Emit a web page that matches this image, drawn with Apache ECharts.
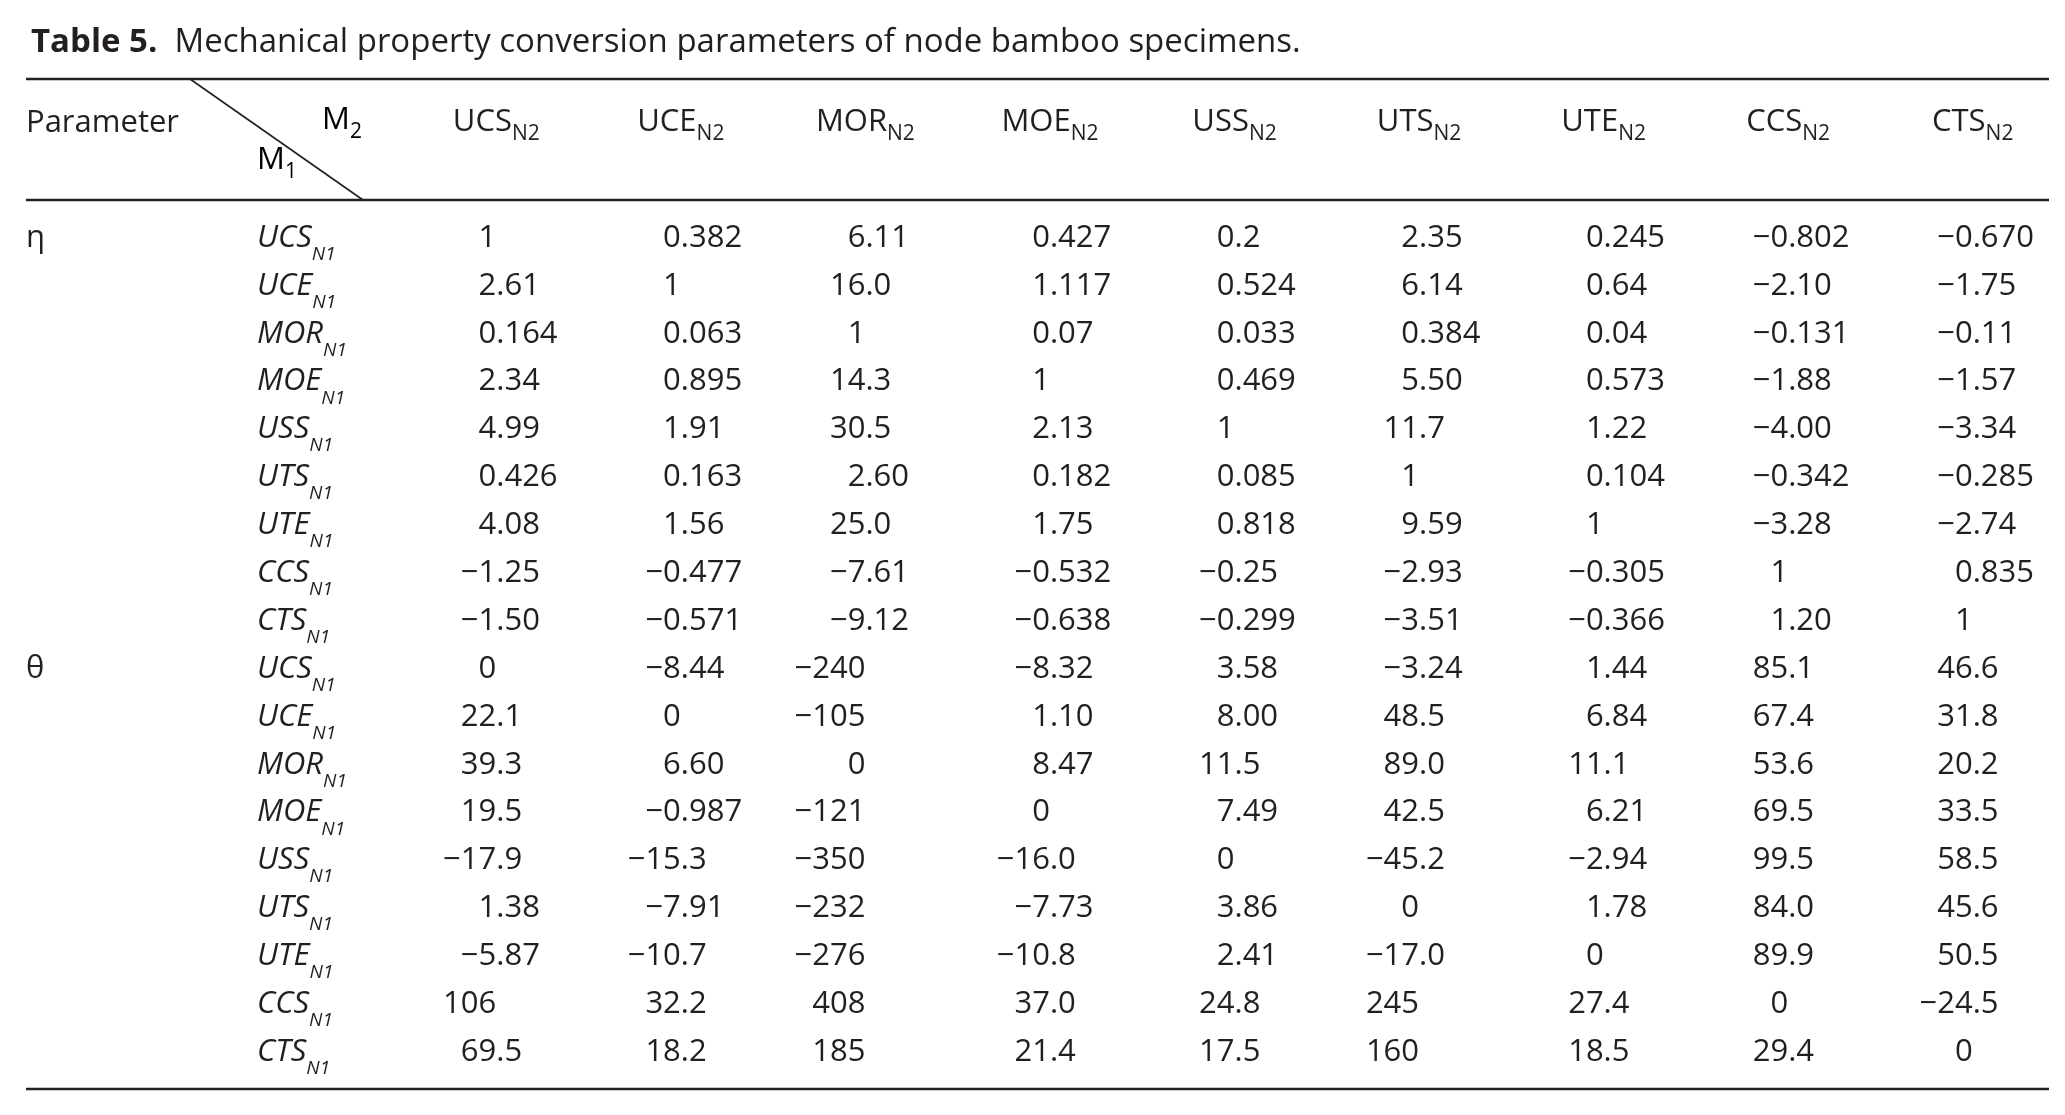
<!DOCTYPE html>
<html>
<head>
<meta charset="utf-8">
<script src="https://cdn.jsdelivr.net/npm/echarts@6/dist/echarts.min.js"></script>
<style>
  html, body { margin: 0; padding: 0; background: #fff; }
  #main { width: 2065px; height: 1115px; }
</style>
</head>
<body>
<div id="main"></div>
<script>
// column (M2) and row (M1) property names
const props = ['UCS', 'UCE', 'MOR', 'MOE', 'USS', 'UTS', 'UTE', 'CCS', 'CTS'];
const params = ['η', 'θ'];

// η block, rows M1 = UCS..CTS, columns M2 = UCS..CTS (kept as printed)
const etaValues = [
  ['1', '0.382', '6.11', '0.427', '0.2', '2.35', '0.245', '-0.802', '-0.670'],
  ['2.61', '1', '16.0', '1.117', '0.524', '6.14', '0.64', '-2.10', '-1.75'],
  ['0.164', '0.063', '1', '0.07', '0.033', '0.384', '0.04', '-0.131', '-0.11'],
  ['2.34', '0.895', '14.3', '1', '0.469', '5.50', '0.573', '-1.88', '-1.57'],
  ['4.99', '1.91', '30.5', '2.13', '1', '11.7', '1.22', '-4.00', '-3.34'],
  ['0.426', '0.163', '2.60', '0.182', '0.085', '1', '0.104', '-0.342', '-0.285'],
  ['4.08', '1.56', '25.0', '1.75', '0.818', '9.59', '1', '-3.28', '-2.74'],
  ['-1.25', '-0.477', '-7.61', '-0.532', '-0.25', '-2.93', '-0.305', '1', '0.835'],
  ['-1.50', '-0.571', '-9.12', '-0.638', '-0.299', '-3.51', '-0.366', '1.20', '1']
];

// θ block
const thetaValues = [
  ['0', '-8.44', '-240', '-8.32', '3.58', '-3.24', '1.44', '85.1', '46.6'],
  ['22.1', '0', '-105', '1.10', '8.00', '48.5', '6.84', '67.4', '31.8'],
  ['39.3', '6.60', '0', '8.47', '11.5', '89.0', '11.1', '53.6', '20.2'],
  ['19.5', '-0.987', '-121', '0', '7.49', '42.5', '6.21', '69.5', '33.5'],
  ['-17.9', '-15.3', '-350', '-16.0', '0', '-45.2', '-2.94', '99.5', '58.5'],
  ['1.38', '-7.91', '-232', '-7.73', '3.86', '0', '1.78', '84.0', '45.6'],
  ['-5.87', '-10.7', '-276', '-10.8', '2.41', '-17.0', '0', '89.9', '50.5'],
  ['106', '32.2', '408', '37.0', '24.8', '245', '27.4', '0', '-24.5'],
  ['69.5', '18.2', '185', '21.4', '17.5', '160', '18.5', '29.4', '0']
];

const FONT = '"Open Sans", Lato, sans-serif';
const INK = '#231f20';
const FS = 31;

// rows of the table: 9 for η then 9 for θ
const rowKeys = [];
params.forEach(p => props.forEach(m => rowKeys.push(p + '-' + m)));

const cellText = [];
const cellData = [];
[etaValues, thetaValues].forEach((block, b) => {
  block.forEach((row, r) => {
    row.forEach((s, c) => {
      cellData.push([c, b * 9 + r]);
      cellText.push(s.replace('-', '\u2212'));
    });
  });
});

const subRich = {
  m: { fontFamily: FONT, fontSize: FS, fontWeight: 'normal', color: INK, lineHeight: 45, verticalAlign: 'middle' },
  s: { fontFamily: FONT, fontSize: 21, fontWeight: 'normal', color: INK, lineHeight: 20, verticalAlign: 'bottom' }
};

const chart = echarts.init(document.getElementById('main'), null, { renderer: 'canvas' });

const option = {
  backgroundColor: '#fff',
  animation: false,
  title: {
    left: 26,
    top: 17,
    text: '{b|Table 5.}{r|  Mechanical property conversion parameters of node bamboo specimens.}',
    textStyle: {
      rich: {
        b: { fontFamily: FONT, fontSize: 33, fontWeight: 'bold', color: INK, lineHeight: 42 },
        r: { fontFamily: FONT, fontSize: 33, fontWeight: 'normal', color: INK, lineHeight: 42 }
      }
    }
  },
  grid: { left: 404, top: 214, width: 1661, height: 862 },
  xAxis: {
    type: 'category',
    position: 'top',
    data: props,
    boundaryGap: true,
    axisLine: { show: false },
    axisTick: { show: false },
    splitLine: { show: false },
    axisLabel: {
      interval: 0,
      margin: 69,
      formatter: v => '{m|' + v + '}{s|N2}',
      rich: subRich
    }
  },
  yAxis: [
    {
      type: 'category',
      position: 'left',
      inverse: true,
      data: rowKeys,
      axisLine: { show: false },
      axisTick: { show: false },
      splitLine: { show: false },
      axisLabel: {
        interval: 0,
        margin: 147,
        align: 'left',
        formatter: (v, i) => '{it|' + props[i % 9] + '}{sb|N1}',
        rich: {
          it: { fontFamily: FONT, fontSize: FS, fontStyle: 'italic', color: INK, lineHeight: 52, verticalAlign: 'middle' },
          sb: { fontFamily: FONT, fontSize: 19, fontStyle: 'italic', color: INK, lineHeight: 20, verticalAlign: 'bottom' }
        }
      }
    },
    {
      type: 'category',
      position: 'left',
      inverse: true,
      data: rowKeys,
      axisLine: { show: false },
      axisTick: { show: false },
      splitLine: { show: false },
      axisLabel: {
        interval: 0,
        margin: 378,
        align: 'left',
        fontFamily: FONT,
        fontSize: FS,
        color: INK,
        formatter: (v, i) => (i % 9 === 0 ? params[i / 9] : '')
      }
    }
  ],
  graphic: [
    { type: 'line', shape: { x1: 26, y1: 79, x2: 2049, y2: 79 }, style: { stroke: INK, lineWidth: 2.5 } },
    { type: 'line', shape: { x1: 26, y1: 200, x2: 2049, y2: 200 }, style: { stroke: INK, lineWidth: 2.5 } },
    { type: 'line', shape: { x1: 26, y1: 1089, x2: 2049, y2: 1089 }, style: { stroke: INK, lineWidth: 2.5 } },
    { type: 'line', shape: { x1: 190, y1: 79, x2: 363, y2: 200 }, style: { stroke: INK, lineWidth: 1.6 } },
    {
      type: 'text', left: 26, top: 108,
      style: { text: 'Parameter', font: FS + 'px ' + FONT, fill: INK }
    },
    {
      type: 'text', left: 322, top: 105,
      style: { text: '{m|M}{s|2}', rich: subRich }
    },
    {
      type: 'text', left: 257, top: 145,
      style: { text: '{m|M}{s|1}', rich: subRich }
    }
  ],
  series: [
    {
      type: 'custom',
      coordinateSystem: 'cartesian2d',
      xAxisIndex: 0,
      yAxisIndex: 0,
      data: cellData,
      silent: true,
      renderItem: function (p, api) {
        const pt = api.coord([api.value(0), api.value(1)]);
        const s = cellText[p.dataIndex];
        const dot = s.indexOf('.');
        const head = dot < 0 ? s : s.slice(0, dot);
        const tail = dot < 0 ? '' : s.slice(dot);
        const font = FS + 'px ' + FONT;
        return {
          type: 'group',
          children: [
            { type: 'text', style: { text: head, x: pt[0], y: pt[1], align: 'right', verticalAlign: 'middle', font: font, fill: INK } },
            { type: 'text', style: { text: tail, x: pt[0], y: pt[1], align: 'left', verticalAlign: 'middle', font: font, fill: INK } }
          ]
        };
      }
    }
  ]
};

chart.setOption(option);
</script>
</body>
</html>
